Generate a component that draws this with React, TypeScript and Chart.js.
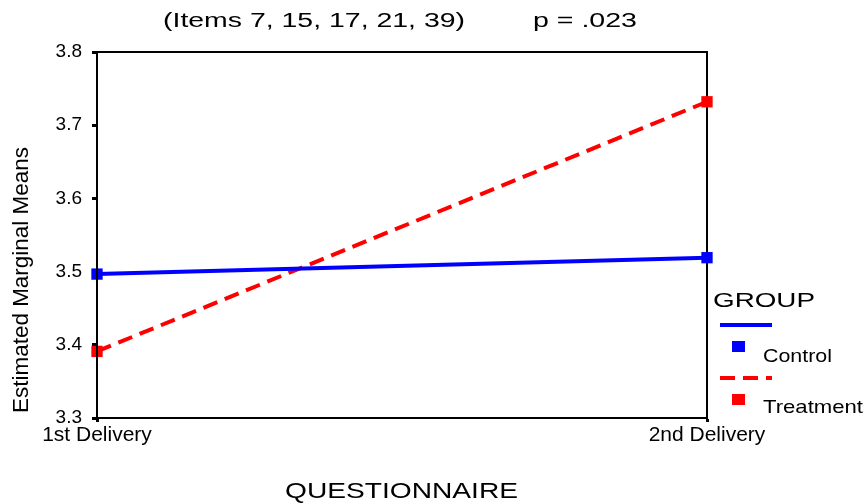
import React, { useEffect, useRef } from "react";
import { Chart, registerables } from "chart.js";

Chart.register(...registerables);

const categories = ["1st Delivery", "2nd Delivery"];
const controlValues = [3.4966, 3.519];
const treatmentValues = [3.391, 3.732];
const yTicks = [3.3, 3.4, 3.5, 3.6, 3.7, 3.8];
const titleLeft = "(Items 7, 15, 17, 21, 39)";
const titleRight = "p = .023";
const yTitle = "Estimated Marginal Means";
const xTitle = "QUESTIONNAIRE";
const legendTitle = "GROUP";

const FONT = '"Liberation Sans", Arial, Helvetica, sans-serif';

function stretchText(
  ctx: CanvasRenderingContext2D,
  text: string,
  x: number,
  y: number,
  size: number,
  targetWidth: number,
  rotate = false
) {
  ctx.font = `${size}px ${FONT}`;
  const w = ctx.measureText(text).width;
  const s = targetWidth / w;
  ctx.save();
  ctx.translate(x, y);
  if (rotate) ctx.rotate(-Math.PI / 2);
  ctx.scale(s, 1);
  ctx.textAlign = "left";
  ctx.textBaseline = "alphabetic";
  ctx.fillStyle = "#000";
  ctx.fillText(text, 0, 0);
  ctx.restore();
}

const framePlugin = {
  id: "frame",
  beforeDatasetsDraw(chart: any) {
    const { ctx } = chart;
    const { left, right, top, bottom } = chart.chartArea;
    ctx.save();
    ctx.strokeStyle = "#000";
    ctx.lineWidth = 2;
    ctx.beginPath();
    ctx.moveTo(left, top);
    ctx.lineTo(right, top);
    ctx.lineTo(right, bottom);
    ctx.stroke();
    ctx.restore();
  },
  afterDatasetsDraw(chart: any) {
    const { ctx } = chart;
    const { left, top, bottom } = chart.chartArea;
    ctx.save();
    ctx.strokeStyle = "#000";
    ctx.lineWidth = 2;
    ctx.beginPath();
    ctx.moveTo(left, top);
    ctx.lineTo(left, bottom);
    ctx.stroke();
    ctx.restore();
  },
  afterDraw(chart: any) {
    const ctx: CanvasRenderingContext2D = chart.ctx;
    // Title
    stretchText(ctx, titleLeft, 163, 27, 20, 302);
    stretchText(ctx, titleRight, 533, 27, 20, 104);
    // Axis titles
    stretchText(ctx, yTitle, 28, 413, 22, 266, true);
    stretchText(ctx, xTitle, 285, 498, 22, 233);
    // Legend
    stretchText(ctx, legendTitle, 713, 307, 21, 102);
    const labelWidths = [69, 100];
    chart.data.datasets.forEach((ds: any, i: number) => {
      const y0 = 325 + i * 53;
      ctx.save();
      ctx.strokeStyle = ds.borderColor;
      ctx.lineWidth = ds.borderWidth;
      ctx.setLineDash(ds.borderDash || []);
      ctx.beginPath();
      ctx.moveTo(720, y0);
      ctx.lineTo(772, y0);
      ctx.stroke();
      ctx.setLineDash([]);
      ctx.fillStyle = ds.pointBackgroundColor;
      ctx.fillRect(732, y0 + 16, 13, 11);
      ctx.restore();
      stretchText(ctx, ds.label, 763, y0 + 37 - i * 2, 19, labelWidths[i]);
    });
  },
};

export default function App() {
  const ref = useRef<HTMLCanvasElement>(null);
  useEffect(() => {
    document.body.style.margin = "0";
    const canvas = ref.current!;
    const chart = new Chart(canvas, {
      type: "line",
      data: {
        labels: categories,
        datasets: [
          {
            label: "Control",
            data: controlValues,
            borderColor: "#0000ff",
            backgroundColor: "#0000ff",
            pointBackgroundColor: "#0000ff",
            pointBorderColor: "#0000ff",
            borderWidth: 4,
            pointStyle: "rect",
            pointRadius: 8,
            pointBorderWidth: 0,
            tension: 0,
            clip: false as any,
          },
          {
            label: "Treatment",
            data: treatmentValues,
            borderColor: "#ff0000",
            backgroundColor: "#ff0000",
            pointBackgroundColor: "#ff0000",
            pointBorderColor: "#ff0000",
            borderWidth: 4,
            borderDash: [15, 8],
            pointStyle: "rect",
            pointRadius: 8,
            pointBorderWidth: 0,
            tension: 0,
            clip: false as any,
          },
        ],
      },
      options: {
        responsive: false,
        animation: false,
        devicePixelRatio: 1,
        layout: { padding: { left: 0, right: 160, top: 52, bottom: 0 } },
        plugins: {
          legend: { display: false },
          title: { display: false },
          tooltip: { enabled: false },
        },
        scales: {
          x: {
            type: "category",
            offset: false,
            grid: {
              display: true,
              drawOnChartArea: false,
              drawTicks: true,
              tickLength: 4,
              tickWidth: 3,
              tickColor: "#000",
              offset: false,
            },
            border: { display: true, color: "#000", width: 2 },
            ticks: {
              color: "#000",
              font: { family: FONT, size: 21 },
              padding: 1,
              maxRotation: 0,
              autoSkip: false,
            },
            afterFit: (s: any) => {
              s.height = 85;
            },
          },
          y: {
            type: "linear",
            min: 3.3,
            max: 3.8,
            grid: {
              display: true,
              drawOnChartArea: false,
              drawTicks: true,
              tickLength: 5,
              tickWidth: 3,
              tickColor: "#000",
            },
            border: { display: true, color: "#000", width: 2 },
            afterBuildTicks: (s: any) => {
              s.ticks = yTicks.map((v) => ({ value: v }));
            },
            ticks: {
              color: "#000",
              font: { family: FONT, size: 19 },
              padding: 10,
              callback: (v: any) => Number(v).toFixed(1),
            },
            afterFit: (s: any) => {
              s.width = 97;
            },
          },
        },
      },
      plugins: [framePlugin],
    });
    return () => chart.destroy();
  }, []);
  return (
    <div style={{ position: "absolute", left: 0, top: 0, width: 867, height: 503, background: "#fff" }}>
      <canvas ref={ref} width={867} height={503} style={{ width: 867, height: 503, display: "block" }} />
    </div>
  );
}
